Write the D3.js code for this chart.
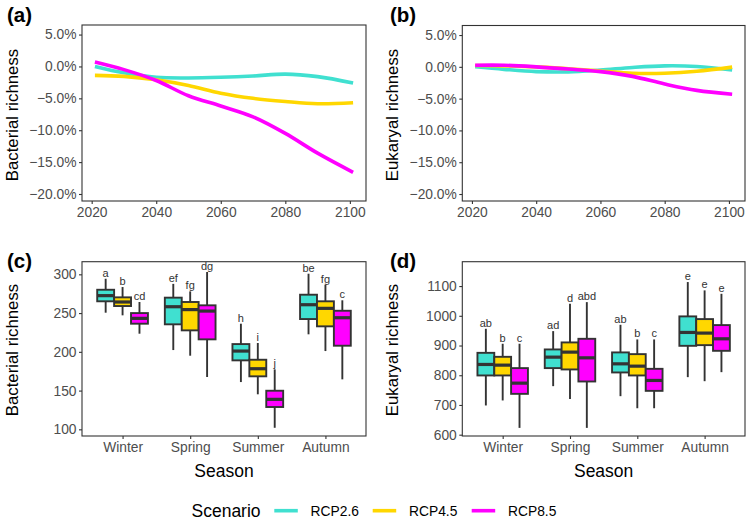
<!DOCTYPE html>
<html><head><meta charset="utf-8">
<script src="https://cdn.jsdelivr.net/npm/d3@7"></script>
<style>body{margin:0;background:#fff}svg{display:block;font-family:"Liberation Sans",Arial,sans-serif}</style>
</head><body><svg id="c" width="749" height="520"></svg>
<script>
const scenarios = ["RCP2.6","RCP4.5","RCP8.5"];
const colors = ["#40E0D0","#FFD700","#FF00FF"];
const years = [2021,2030,2040,2050,2060,2070,2080,2090,2101];
const bactTrend = [
  [0.0,-1.0,-1.7,-1.8,-1.7,-1.5,-1.2,-1.6,-2.6],
  [-1.4,-1.55,-2.1,-3.0,-4.2,-5.0,-5.5,-5.85,-5.7],
  [0.7,-0.5,-2.2,-4.6,-6.2,-7.9,-10.5,-13.6,-16.6]
];
const eukTrend = [
  [0.0,-0.4,-0.75,-0.8,-0.5,-0.1,0.15,0.05,-0.5],
  [0.2,0.15,0.0,-0.3,-0.65,-1.0,-1.0,-0.7,-0.05],
  [0.25,0.25,0.0,-0.35,-0.75,-1.5,-2.7,-3.7,-4.3]
];
const pctTicks = [5,0,-5,-10,-15,-20];
const yearTicks = [2020,2040,2060,2080,2100];
const seasons = ["Winter","Spring","Summer","Autumn"];
// box stats: [whiskerLow, q1, median, q3, whiskerHigh] per season, per scenario
const bactBox = [
  [[250.5,265.2,272.5,280.1,294.3],[247.1,259.1,264.3,270.3,283.6],[223.4,236.3,243.2,250,264.3]],
  [[202.3,235.5,258.2,269.9,287.7],[195,227.7,254.5,264.3,278],[167.5,216.1,252.6,260,303]],
  [[161,189,201,210,236.3],[145.2,168.4,178.2,189.8,211.4],[102,128.8,138.7,149.8,177.4]],
  [[222.6,242.3,260.8,273.7,300.8],[201,232.9,256.1,265.2,286.6],[164.5,207.9,244,253,266.5]]
];
const bactLetters = [["a","b","cd"],["ef","fg","dg"],["h","i","j"],["be","fg","c"]];
const eukBox = [
  [[698.3,799.3,836.3,875.4,956.3],[715.2,799.3,834,862,905.9],[622.9,737.4,773.4,824,906]],
  [[763.3,824,860.9,886.8,948.5],[720.5,819.5,877.8,910.4,1040.4],[622.9,779,858.6,922.6,1046]],
  [[729.6,809.4,838.4,876.8,969.7],[689,799.3,830.6,871,920.5],[689,747.5,782.5,821.6,920.5]],
  [[793.6,899,944,998,1113.5],[780,901.3,941.8,988.9,1085.5],[810.4,882.2,922.6,968.7,1074]]
];
const eukLetters = [["ab","b","c"],["ad","d","abd"],["ab","b","c"],["e","e","e"]];
const bactTicks = [100,150,200,250,300];
const eukTicks = [600,700,800,900,1000,1100];

const svg = d3.select("#c");
const dark = "#333333", tickCol = "#4D4D4D";
const tickFont = "13.8px";

function frame(g, x0, x1, y0, y1){
  g.append("rect").attr("x",x0).attr("y",y0).attr("width",x1-x0).attr("height",y1-y0)
   .attr("fill","none").attr("stroke",dark).attr("stroke-width",1.1);
}
function yAxis(g, y, ticks, x0, fmt){
  const a = g.append("g").attr("transform",`translate(${x0},0)`)
    .call(d3.axisLeft(y).tickValues(ticks).tickSize(3).tickPadding(2.5).tickFormat(fmt));
  a.select(".domain").remove();
  a.selectAll("line").attr("stroke",dark).attr("stroke-width",1.1);
  a.selectAll("text").attr("fill",tickCol).attr("font-size",tickFont).attr("font-family","Liberation Sans, Arial, sans-serif");
}
function xAxis(g, x, ticks, y1, fmt){
  const a = g.append("g").attr("transform",`translate(0,${y1})`)
    .call(d3.axisBottom(x).tickValues(ticks).tickSize(3).tickPadding(3).tickFormat(fmt));
  a.select(".domain").remove();
  a.selectAll("line").attr("stroke",dark).attr("stroke-width",1.1);
  a.selectAll("text").attr("fill",tickCol).attr("font-size",tickFont).attr("font-family","Liberation Sans, Arial, sans-serif");
}
function yTitle(text, cx, cy){
  svg.append("text").attr("transform",`translate(${cx},${cy}) rotate(-90)`).attr("text-anchor","middle")
    .attr("font-size","16.8px").attr("fill","#000").text(text);
}
function tag(text, x, y){
  svg.append("text").attr("x",x).attr("y",y).attr("font-size","20.5px").attr("font-weight","bold").attr("fill","#000").text(text);
}

function linePanel(x0,x1,y0,y1,data,title,label,titleX){
  const g = svg.append("g");
  const x = d3.scaleLinear().domain([2017,2105]).range([x0,x1]);
  const y = d3.scaleLinear().domain([-21.1,6.5]).range([y1,y0]);
  const line = d3.line().x((d,i)=>x(years[i])).y(d=>y(d)).curve(d3.curveCatmullRom.alpha(0.5));
  data.forEach((s,k)=>{
    g.append("path").attr("d",line(s)).attr("fill","none").attr("stroke",colors[k]).attr("stroke-width",3.6).attr("stroke-linecap","butt");
  });
  frame(g,x0,x1,y0,y1);
  yAxis(g,y,pctTicks,x0,d=>d3.format(".1f")(d)+"%");
  xAxis(g,x,yearTicks,y1,d3.format("d"));
  yTitle(title,titleX,115);
}

function boxPanel(x0,x1,y0,y1,data,letters,dom,ticks,title,titleX){
  const g = svg.append("g");
  const x = d3.scalePoint().domain(seasons).range([x0,x1]).padding(0.6);
  const step = x.step();
  const y = d3.scaleLinear().domain(dom).range([y1,y0]);
  const bw = step*0.25;
  data.forEach((sea,si)=>{
    sea.forEach((st,k)=>{
      const cx = x(seasons[si]) + (k-1)*bw;
      g.append("line").attr("x1",cx).attr("x2",cx).attr("y1",y(st[0])).attr("y2",y(st[4])).attr("stroke",dark).attr("stroke-width",1.9);
      g.append("rect").attr("x",cx-bw/2).attr("y",y(st[3])).attr("width",bw).attr("height",y(st[1])-y(st[3]))
        .attr("fill",colors[k]).attr("stroke",dark).attr("stroke-width",1.9);
      g.append("line").attr("x1",cx-bw/2).attr("x2",cx+bw/2).attr("y1",y(st[2])).attr("y2",y(st[2])).attr("stroke",dark).attr("stroke-width",3.2);
      g.append("text").attr("x",cx).attr("y",y(st[4])-2).attr("text-anchor","middle").attr("font-size","11px").attr("fill","#333").text(letters[si][k]);
    });
  });
  frame(g,x0,x1,y0,y1);
  yAxis(g,y,ticks,x0,d3.format("d"));
  xAxis(g,x,seasons,y1,d=>d);
  yTitle(title,titleX,350);
  svg.append("text").attr("x",(x0+x1)/2).attr("y",477).attr("text-anchor","middle").attr("font-size","17.5px").attr("fill","#000").text("Season");
}

linePanel(82,366,25,201,bactTrend,"Bacterial richness","(a)",17.5);
linePanel(462.3,745,25.5,201,eukTrend,"Eukaryal richness","(b)",397.5);
boxPanel(82,366,261.7,436,bactBox,bactLetters,[91.4,316.3],bactTicks,"Bacterial richness",17.5);
boxPanel(462.3,745,261.7,436,eukBox,eukLetters,[595.6,1182],eukTicks,"Eukaryal richness",397.5);
tag("(a)",7,21.5); tag("(b)",390,21.5); tag("(c)",7,267.5); tag("(d)",390,267.5);

// legend
const lg = svg.append("g");
lg.append("text").attr("x",191.5).attr("y",517).attr("font-size","17.5px").attr("fill","#000").text("Scenario");
const lx = [274.3,372.7,471.7];
scenarios.forEach((s,k)=>{
  lg.append("line").attr("x1",lx[k]).attr("x2",lx[k]+23.5).attr("y1",510.7).attr("y2",510.7).attr("stroke",colors[k]).attr("stroke-width",3.6);
  lg.append("text").attr("x",lx[k]+36.3).attr("y",515.8).attr("font-size","13.8px").attr("fill","#000").text(s);
});
</script></body></html>
